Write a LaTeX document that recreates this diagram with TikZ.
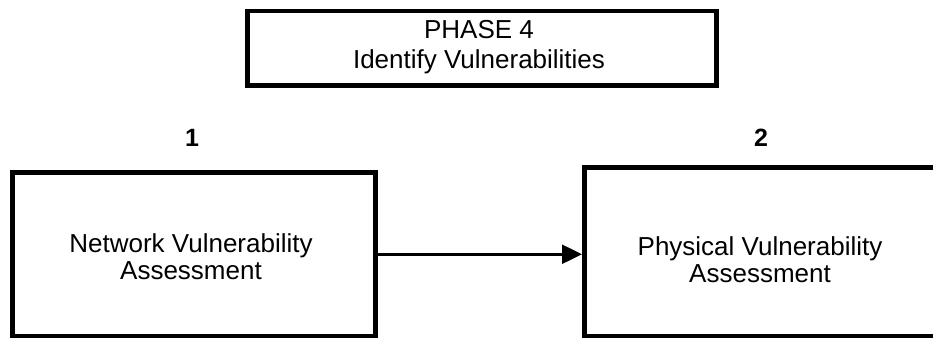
\documentclass[tikz,border=0pt]{standalone}
\usepackage{fontspec}
\setmainfont{Liberation Sans}
\usetikzlibrary{arrows.meta}
\begin{document}
\begin{tikzpicture}[x=1pt,y=-1pt,
  boxstyle/.style={draw=black,line width=4.5pt,fill=white},
  boxtext/.style={align=center,font=\fontsize{26}{27}\selectfont,inner sep=0pt},
  phasetext/.style={align=center,font=\fontsize{26}{30}\selectfont,inner sep=0pt},
  numlabel/.style={font=\fontsize{25}{25}\selectfont\bfseries,inner sep=0pt,anchor=base},
  conn/.style={line width=2.5pt,-{Triangle[length=20pt,width=19pt]}}]
\useasboundingbox (0,0) rectangle (933,337);
\clip (0,0) rectangle (933,337);
% boxes
\node[boxstyle,minimum width=469pt,minimum height=74pt,anchor=north west] (phase) at (245,9) {};
\node[boxstyle,minimum width=363pt,minimum height=164pt,anchor=north west] (lb) at (10,170) {};
\node[boxstyle,minimum width=370pt,minimum height=169pt,anchor=north west] (rb) at (582,165) {};
% texts (base anchor = baseline of last line)
\node[phasetext,anchor=base] (phasetxt) at (479,68) {PHASE 4\\Identify Vulnerabilities};
\node[boxtext,anchor=base] (lbtxt) at (191,279) {Network Vulnerability\\Assessment};
\node[boxtext,anchor=base] (rbtxt) at (760,282) {Physical Vulnerability\\Assessment};
% numbers
\node[numlabel] (n1) at (192,146) {1};
\node[numlabel] (n2) at (761,146) {2};
% connector
\draw[conn] (lb.east) -- (lb.east -| rb.west);
\end{tikzpicture}
\end{document}
